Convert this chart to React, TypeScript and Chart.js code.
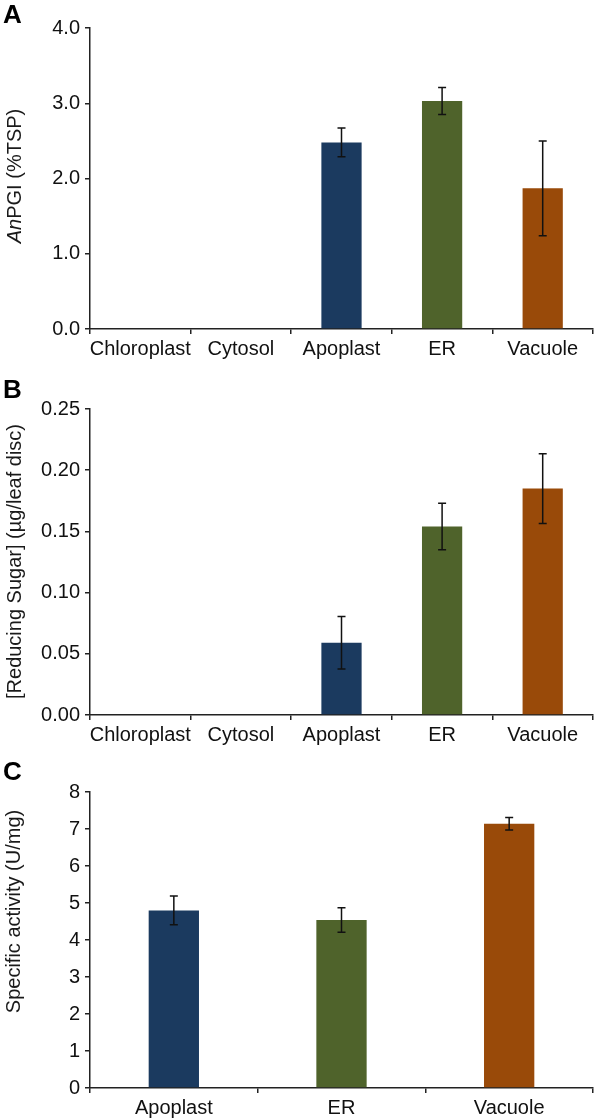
import React, { useEffect, useRef } from "react";
import { Chart, registerables } from "chart.js";

Chart.register(...registerables);

// ---------- data ----------
const categoriesAB = ["Chloroplast", "Cytosol", "Apoplast", "ER", "Vacuole"];
const pgiValues = [0, 0, 2.48, 3.03, 1.87];
const pgiErrors = [0, 0, 0.19, 0.18, 0.63];
const sugarValues = [0, 0, 0.059, 0.154, 0.185];
const sugarErrors = [0, 0, 0.0215, 0.019, 0.0285];
const categoriesC = ["Apoplast", "ER", "Vacuole"];
const activityValues = [4.8, 4.54, 7.14];
const activityErrors = [0.39, 0.33, 0.17];
const pgiTicks = [0, 1, 2, 3, 4];
const sugarTicks = [0, 0.05, 0.1, 0.15, 0.2, 0.25];
const activityTicks = [0, 1, 2, 3, 4, 5, 6, 7, 8];

const NAVY = "#1B3A5F";
const GREEN = "#4F632B";
const ORANGE = "#994A09";
const colorsAB = [NAVY, NAVY, NAVY, GREEN, ORANGE];
const colorsC = [NAVY, GREEN, ORANGE];

const FONT = "'Liberation Sans', Arial, Helvetica, sans-serif";
const AXIS = "#222222";

type Seg = { text: string; italic?: boolean };

interface PanelCfg {
  letter: string;
  letterBaseline: number;
  titleSegs: Seg[];
  titleCenterY: number;
  titleX: number;
  categories: string[];
  values: number[];
  errors: number[];
  colors: string[];
  ticks: number[];
  decimals: number;
  barPct: number;
  height: number;
  top: number;
  xHeight: number;
  padRight: number;
}

function makeChart(canvas: HTMLCanvasElement, p: PanelCfg) {
  const errPlugin = {
    id: "errbars",
    afterDatasetsDraw(chart: any) {
      const ctx = chart.ctx;
      const meta = chart.getDatasetMeta(0);
      const ys = chart.scales.y;
      ctx.save();
      ctx.strokeStyle = "#111111";
      ctx.lineWidth = 1.5;
      meta.data.forEach((bar: any, i: number) => {
        const e = p.errors[i];
        if (!e) return;
        const v = p.values[i];
        const yt = ys.getPixelForValue(v + e);
        const yb = ys.getPixelForValue(v - e);
        const x = bar.x;
        const cw = 4;
        ctx.beginPath();
        ctx.moveTo(x, yt);
        ctx.lineTo(x, yb);
        ctx.moveTo(x - cw, yt);
        ctx.lineTo(x + cw, yt);
        ctx.moveTo(x - cw, yb);
        ctx.lineTo(x + cw, yb);
        ctx.stroke();
      });
      ctx.restore();
    },
  };

  const labelPlugin = {
    id: "labels",
    afterDraw(chart: any) {
      const ctx = chart.ctx;
      ctx.save();
      ctx.fillStyle = "#000000";
      ctx.font = `bold 26px ${FONT}`;
      ctx.textBaseline = "alphabetic";
      ctx.textAlign = "left";
      ctx.fillText(p.letter, 3, p.letterBaseline);

      // rotated y-axis title with mixed styles
      ctx.translate(p.titleX, p.titleCenterY);
      ctx.rotate(-Math.PI / 2);
      const fontFor = (s: Seg) => `${s.italic ? "italic " : ""}20px ${FONT}`;
      let total = 0;
      p.titleSegs.forEach((s) => {
        ctx.font = fontFor(s);
        total += ctx.measureText(s.text).width;
      });
      let x = -total / 2;
      ctx.fillStyle = "#1a1a1a";
      p.titleSegs.forEach((s) => {
        ctx.font = fontFor(s);
        ctx.fillText(s.text, x, 0);
        x += ctx.measureText(s.text).width;
      });
      ctx.restore();
    },
  };

  return new Chart(canvas, {
    type: "bar",
    data: {
      labels: p.categories,
      datasets: [
        {
          data: p.values,
          backgroundColor: p.colors,
          borderWidth: 0,
          barPercentage: p.barPct,
          categoryPercentage: 1,
        },
      ],
    },
    options: {
      responsive: false,
      animation: false,
      devicePixelRatio: 1,
      layout: { padding: { top: p.top, right: p.padRight, bottom: 0, left: 0 } },
      plugins: { legend: { display: false }, tooltip: { enabled: false }, title: { display: false } },
      scales: {
        x: {
          grid: {
            display: true,
            drawOnChartArea: false,
            drawTicks: true,
            tickLength: 5,
            color: AXIS,
            lineWidth: 1.5,
            offset: true,
          },
          border: { display: true, color: AXIS, width: 1.5 },
          ticks: {
            color: "#111111",
            font: { family: FONT, size: 20 },
            padding: 3,
            maxRotation: 0,
            autoSkip: false,
          },
          afterFit: (s: any) => {
            s.height = p.xHeight;
          },
        },
        y: {
          min: p.ticks[0],
          max: p.ticks[p.ticks.length - 1],
          afterBuildTicks: (s: any) => {
            s.ticks = p.ticks.map((v) => ({ value: v }));
          },
          grid: {
            display: true,
            drawOnChartArea: false,
            drawTicks: true,
            tickLength: 5,
            color: AXIS,
            lineWidth: 1.5,
          },
          border: { display: true, color: AXIS, width: 1.5 },
          ticks: {
            color: "#111111",
            font: { family: FONT, size: 20 },
            padding: 5,
            callback: (v: any) => Number(v).toFixed(p.decimals),
          },
          afterFit: (s: any) => {
            s.width = 90;
          },
        },
      },
    },
    plugins: [errPlugin, labelPlugin],
  } as any);
}

const panels: PanelCfg[] = [
  {
    letter: "A",
    letterBaseline: 23,
    titleSegs: [{ text: "An", italic: true }, { text: "PGI (%TSP)" }],
    titleCenterY: 176,
    titleX: 21,
    categories: categoriesAB,
    values: pgiValues,
    errors: pgiErrors,
    colors: colorsAB,
    ticks: pgiTicks,
    decimals: 1,
    barPct: 0.4,
    height: 370,
    top: 28,
    xHeight: 41,
    padRight: 7,
  },
  {
    letter: "B",
    letterBaseline: 28,
    titleSegs: [{ text: "[Reducing Sugar] (µg/leaf disc)" }],
    titleCenterY: 191.5,
    titleX: 21,
    categories: categoriesAB,
    values: sugarValues,
    errors: sugarErrors,
    colors: colorsAB,
    ticks: sugarTicks,
    decimals: 2,
    barPct: 0.4,
    height: 375,
    top: 39,
    xHeight: 30,
    padRight: 7,
  },
  {
    letter: "C",
    letterBaseline: 35,
    titleSegs: [{ text: "Specific activity (U/mg)" }],
    titleCenterY: 166.5,
    titleX: 20,
    categories: categoriesC,
    values: activityValues,
    errors: activityErrors,
    colors: colorsC,
    ticks: activityTicks,
    decimals: 0,
    barPct: 0.3,
    height: 375,
    top: 47,
    xHeight: 32,
    padRight: 7,
  },
];

function Panel({ cfg }: { cfg: PanelCfg }) {
  const ref = useRef<HTMLCanvasElement | null>(null);
  useEffect(() => {
    if (!ref.current) return;
    const chart = makeChart(ref.current, cfg);
    return () => chart.destroy();
  }, [cfg]);
  return (
    <canvas
      ref={ref}
      width={600}
      height={cfg.height}
      style={{ display: "block", width: 600, height: cfg.height }}
    />
  );
}

export default function App() {
  return (
    <div
      style={{
        position: "absolute",
        left: 0,
        top: 0,
        width: 600,
        height: 1120,
        background: "#ffffff",
      }}
    >
      {panels.map((p) => (
        <Panel key={p.letter} cfg={p} />
      ))}
    </div>
  );
}
